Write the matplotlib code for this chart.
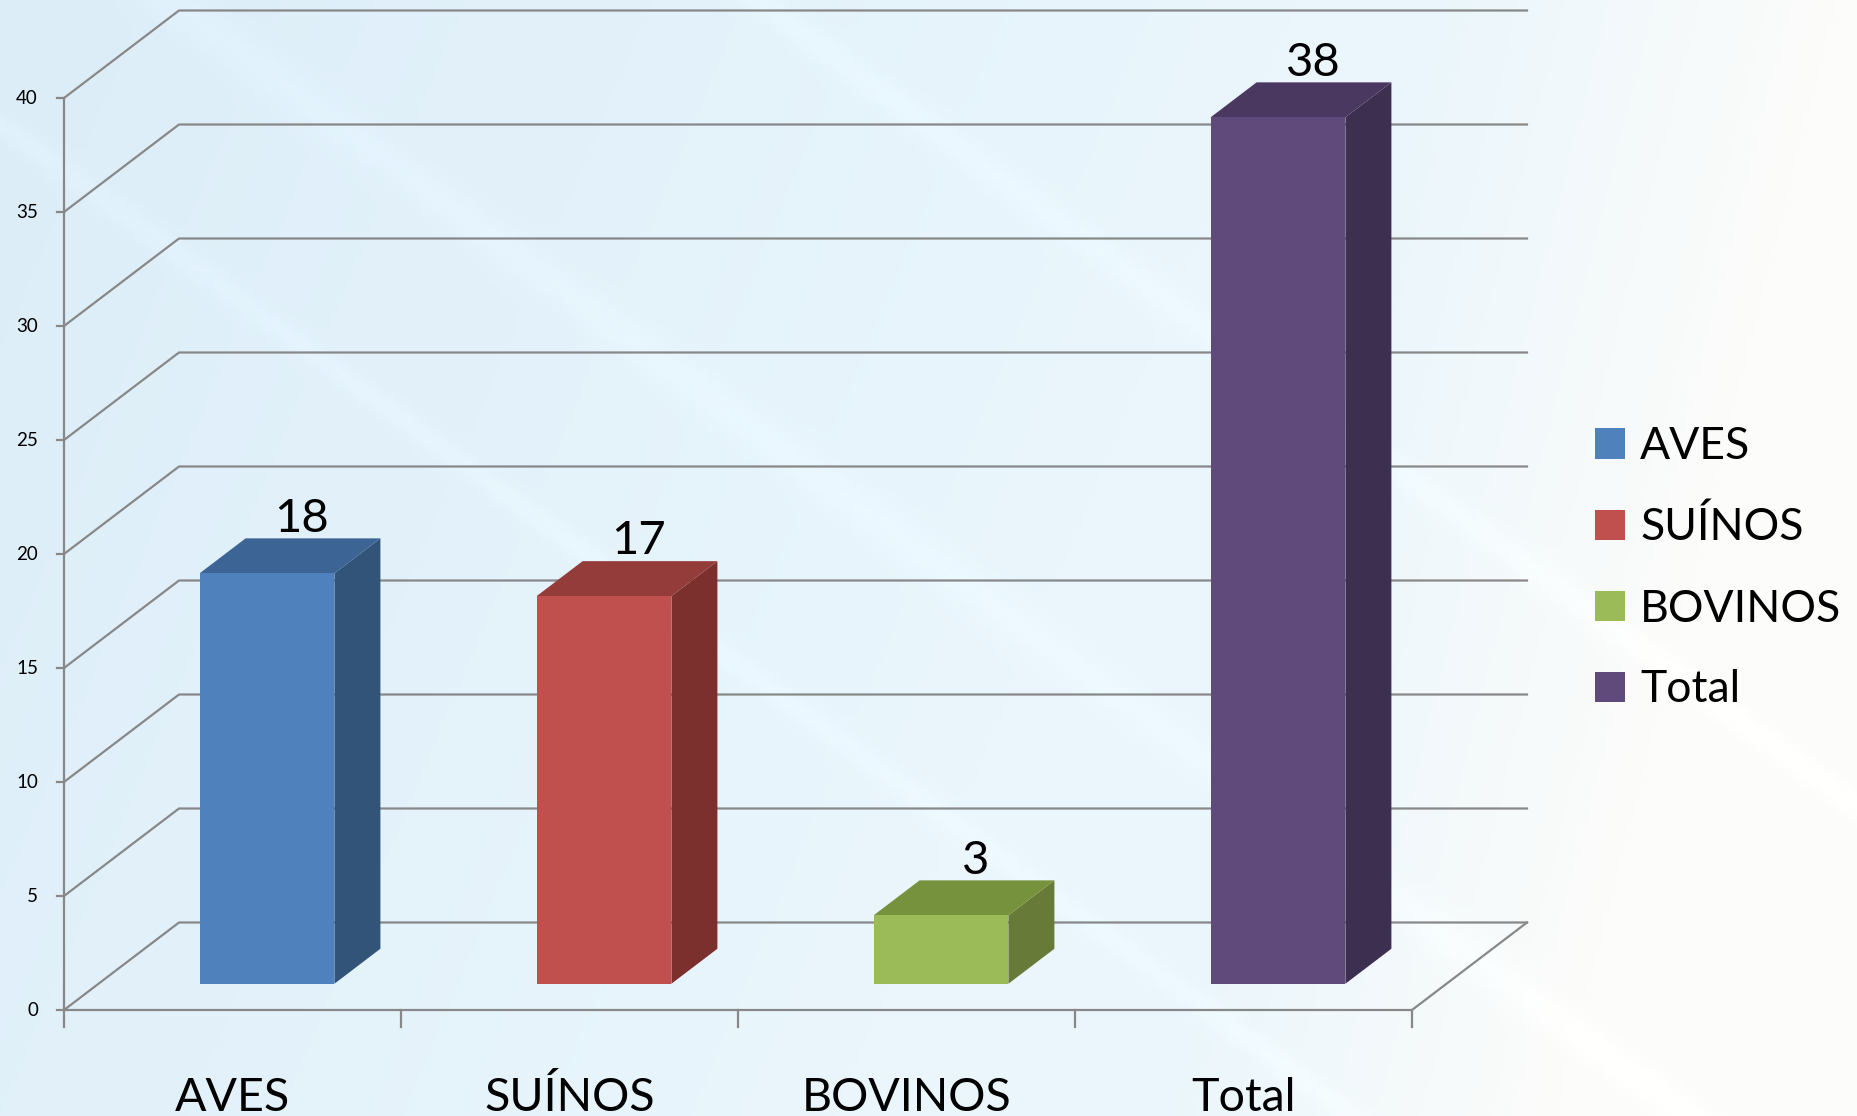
import numpy as np
import matplotlib
matplotlib.use("Agg")
from matplotlib import pyplot as plt
from matplotlib.patches import Polygon, Rectangle, Patch
from matplotlib.colors import to_rgb

# data
categories = ["AVES", "SUÍNOS", "BOVINOS", "Total"]
values = [18, 17, 3, 38]
front_colors = ["#4F81BD", "#C0504D", "#9BBB59", "#604A7B"]
side_colors = ["#325479", "#7B302E", "#677A37", "#3D2F50"]
top_colors = ["#3C6595", "#943C39", "#77923C", "#4A3860"]
y_ticks = [0, 5, 10, 15, 20, 25, 30, 35, 40]

W, H = 1857, 1116
fig = plt.figure(figsize=(W / 100, H / 100), dpi=100)
plt.rcParams["font.family"] = ["Lato", "DejaVu Sans"]

# background gradient
bg = fig.add_axes([0, 0, 1, 1], zorder=0)
gx, gy = np.meshgrid(np.linspace(0, 1, 400), np.linspace(1, 0, 240))
blue = np.array(to_rgb("#DCEDF8"))
mid = np.array(to_rgb("#EAF6FC"))
white = np.array(to_rgb("#FCFCFA"))
t1 = np.clip((gx + 0.25 * (1 - gy)) / 0.7, 0, 1)[..., None]
t2 = np.clip((gx - 0.62 - 0.15 * gy) / 0.22, 0, 1)[..., None]
img = blue * (1 - t1) + mid * t1
img = img * (1 - t2) + white * t2
# faint diagonal streaks
for c, w in [(0.35, 0.012), (0.55, 0.02), (0.9, 0.015)]:
    d = np.abs((gx * 1.1 - (1 - gy) * 0.9) - c + 0.45)
    img = img + (np.exp(-(d / w) ** 2) * 0.015)[..., None]
bg.imshow(np.clip(img, 0, 1), aspect="auto", extent=[0, 1, 0, 1])
bg.axis("off")

# main axes in value / category units
ax = fig.add_axes([0, 0, 1, 1], zorder=1)
ax.patch.set_alpha(0)
ax.axis("off")
x0_px, cat_px = 64, 337
y0_px, val_px = 106, 22.8
ax.set_xlim(-x0_px / cat_px, (W - x0_px) / cat_px)
ax.set_ylim(-y0_px / val_px, (H - y0_px) / val_px)

DX = 115 / cat_px
DY = 87.5 / val_px
n = len(categories)
grid_c = "#888888"
lw = 1.6

# walls and floor
for v in y_ticks:
    ax.plot([0, DX, n + DX], [v, v + DY, v + DY], color=grid_c, lw=lw, zorder=1)
    ax.plot([-7 / cat_px, 0], [v, v], color=grid_c, lw=lw, zorder=1)
    ax.text(-26 / cat_px, v, str(v), ha="right", va="center", fontsize=13.5, color="black")
ax.plot([0, 0], [0, y_ticks[-1]], color=grid_c, lw=lw, zorder=1)
ax.plot([0, n, n + DX], [0, 0, DY], color=grid_c, lw=lw, zorder=1)
for i in range(n + 1):
    ax.plot([i, i], [0, -17 / val_px], color=grid_c, lw=lw, zorder=1)

# bars
f0, fd, bw = 0.3, 0.4, 0.4
for i, v in enumerate(values):
    xl = i + 0.5 - bw / 2 + f0 * DX
    xr = xl + bw
    yb = f0 * DY
    ddx, ddy = fd * DX, fd * DY
    ax.add_patch(Polygon([(xr, yb), (xr + ddx, yb + ddy), (xr + ddx, yb + v + ddy), (xr, yb + v)],
                         closed=True, facecolor=side_colors[i], edgecolor="none", zorder=2))
    ax.add_patch(Polygon([(xl, yb + v), (xr, yb + v), (xr + ddx, yb + v + ddy), (xl + ddx, yb + v + ddy)],
                         closed=True, facecolor=top_colors[i], edgecolor="none", zorder=2))
    ax.add_patch(Rectangle((xl, yb), bw, v, facecolor=front_colors[i], edgecolor="none", zorder=3))
    ax.text(xl + bw / 2 + ddx / 2 + 12 / cat_px, yb + v + ddy + 0.3, str(v), ha="center", va="baseline",
            fontsize=34, color="black", zorder=4)

# category labels
for i, c in enumerate(categories):
    ax.text(i + 0.5, -101 / val_px, c, ha="center", va="baseline", fontsize=33.5, color="black")

# legend
handles = [Patch(facecolor=front_colors[i], edgecolor="none") for i in range(n)]
fig.legend(handles, categories, loc="upper left", bbox_to_anchor=(1595 / W, 1 - 426 / H),
           frameon=False, fontsize=32, handlelength=0.68, handleheight=0.68,
           handletextpad=0.34, labelspacing=0.9, borderpad=0, borderaxespad=0)

fig.savefig("out.png", dpi=100)
